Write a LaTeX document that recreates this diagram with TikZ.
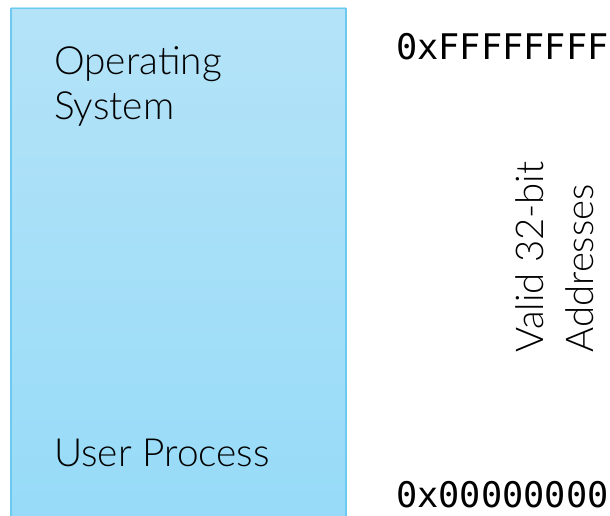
\documentclass[tikz,border=0pt]{standalone}
\usepackage{fontspec}
\setmainfont{Lato Light}
\setmonofont{DejaVu Sans Mono}
\definecolor{boxtop}{HTML}{B4E3F8}
\definecolor{boxbot}{HTML}{97DBF8}
\definecolor{boxline}{HTML}{6CCAF0}
\tikzset{
  lbl/.style={font=\fontsize{38.8}{45}\selectfont, inner sep=0pt, anchor=base west, align=left},
  addr/.style={font=\ttfamily\fontsize{35.3}{40}\selectfont, inner sep=0pt, anchor=base west},
}
\begin{document}
\begin{tikzpicture}[x=1pt,y=-1pt]
\useasboundingbox (0,0) rectangle (610,516);
\shade[top color=boxtop, bottom color=boxbot] (11,8) rectangle (346,516);
\draw[boxline, line width=1.2pt] (11,517) -- (11,8.5) -- (346,8.5) -- (346,517);
\node[lbl] (os) at (54,120) {Operating\\System};
\node[lbl] (up) at (54,466) {User Process};
\node[addr] (hi) at (396,60) {0xFFFFFFFF};
\node[addr] (lo) at (396,507) {0x00000000};
\node[font=\fontsize{38.3}{50}\selectfont, inner sep=0pt, align=left, rotate=90] (va) at (555,257) {Valid 32-bit\\Addresses};
\end{tikzpicture}
\end{document}
